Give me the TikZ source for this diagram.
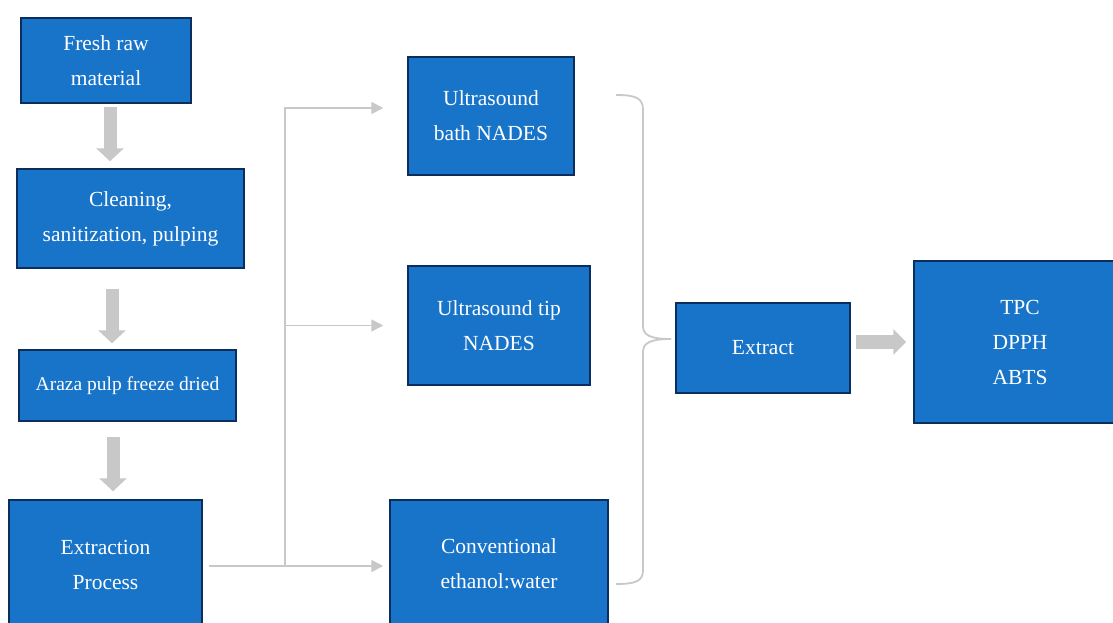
\documentclass[tikz,border=0pt]{standalone}
\usepackage{fontspec}
\setmainfont{Liberation Serif}
\usetikzlibrary{arrows.meta}

\definecolor{boxblue}{RGB}{24,116,200}
\definecolor{boxedge}{RGB}{12,46,92}
\definecolor{linegray}{RGB}{200,200,200}

\begin{document}
\begin{tikzpicture}[x=1pt, y=-1pt,
  stepbox/.style={draw=boxedge, line width=1.5pt, fill=boxblue, text=white, align=center, inner sep=0pt, font=\fontsize{21.5}{35}\selectfont},
  fatarrow/.style={draw=linegray, line width=13pt, -{Triangle[length=13pt,width=27pt]}},
  link/.style={draw=linegray, line width=1.8pt},
  linkarrow/.style={link, -{Triangle[length=12pt,width=12pt]}}]
\useasboundingbox (0,0) rectangle (1113,622);

% left column
\node[stepbox, minimum width=170pt, minimum height=85pt] (fresh) at (106,60.5) {Fresh raw\\material};
\node[stepbox, minimum width=227pt, minimum height=99pt] (clean) at (130.5,218.5) {Cleaning,\\sanitization, pulping};
\node[stepbox, minimum width=217pt, minimum height=71pt, font=\fontsize{19.5}{35}\selectfont] (araza) at (127.5,385.5) {Araza pulp freeze dried};
\node[stepbox, minimum width=193pt, minimum height=129pt] (proc) at (105.5,564.5) {Extraction\\Process};

% extraction methods
\node[stepbox, minimum width=166pt, minimum height=118pt] (bath) at (491,116) {Ultrasound\\bath NADES};
\node[stepbox, minimum width=182pt, minimum height=119pt] (probe) at (499,325.5) {Ultrasound tip\\NADES};
\node[stepbox, minimum width=218pt, minimum height=127pt] (conv) at (499,563.5) {Conventional\\ethanol:water};

% results
\node[stepbox, minimum width=174pt, minimum height=90pt] (extract) at (763,348) {Extract};
\node[stepbox, minimum width=212pt, minimum height=162pt] (assays) at (1020,342) {TPC\\DPPH\\ABTS};

\draw[fatarrow, shorten <=3pt, shorten >=7pt] (fresh.south -| 110,0) -- (clean.north -| 110,0);
\draw[fatarrow, shorten <=20pt, shorten >=6pt] (clean.south -| 112,0) -- (araza.north -| 112,0);
\draw[fatarrow, shorten <=15pt, shorten >=8pt] (araza.south -| 113,0) -- (proc.north -| 113,0);
\draw[fatarrow, line width=14pt, -{Triangle[length=13pt,width=25pt]}, shorten <=5pt, shorten >=7pt] (extract.east |- assays.west) -- (assays.west);

% split to the three methods
\coordinate (split) at (285,566);
\draw[link] ([xshift=6pt]proc.east |- split) -- (split) -- (split |- 0,107);
\draw[linkarrow, shorten >=24pt] (split |- 0,108) -- (bath.west |- 0,108);
\draw[linkarrow, shorten >=24pt] (split |- probe.west) -- (probe.west);
\draw[linkarrow, shorten >=6pt] (split) -- (conv.west |- split);

% brace into the extract
\coordinate (btip) at (671,339);
\draw[link] (616,95) .. controls (636,95) and (643,98) .. (643,110) -- (643,326)
  .. controls (643,335) and (650,339) .. (btip)
  .. controls (650,339) and (643,343) .. (643,352) -- (643,570)
  .. controls (643,581) and (636,584) .. (616,584);

\end{tikzpicture}
\end{document}
